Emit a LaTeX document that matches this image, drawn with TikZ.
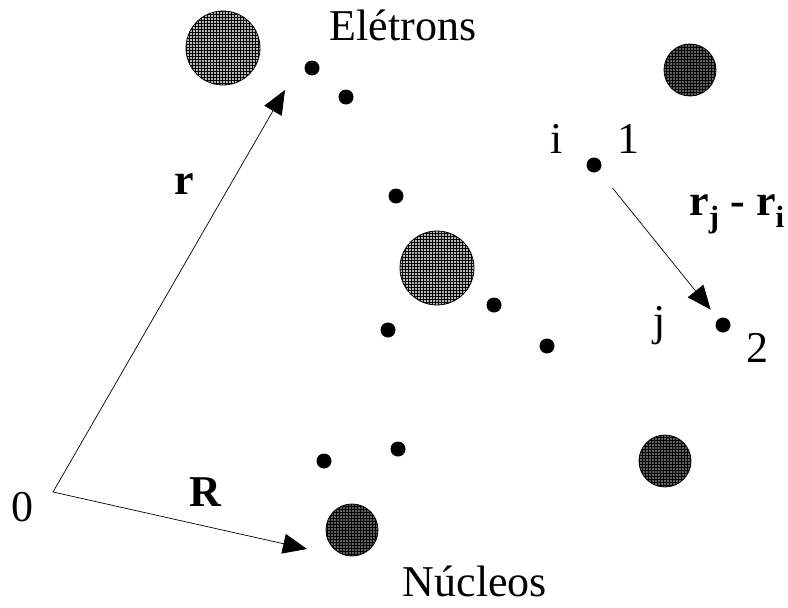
\documentclass[tikz,border=0pt]{standalone}
\usepackage{fontspec}
\setmainfont{Liberation Serif}
\usetikzlibrary{arrows.meta,patterns}
\begin{document}
\begin{tikzpicture}[x=1pt,y=-1pt,
  dot/.style={circle,fill=black,inner sep=0pt,minimum size=15pt},
  nucbig/.style={circle,draw=black,line width=0.8pt,preaction={fill=gray!55},pattern=grid,inner sep=0pt,minimum size=74pt},
  nucsmall/.style={circle,draw=black,line width=0.8pt,preaction={fill=gray!75!black},pattern=grid,inner sep=0pt,minimum size=52pt},
  vec/.style={line width=0.7pt,-{Triangle[length=24pt,width=20pt]}},
  lbl/.style={font=\fontsize{44}{50}\selectfont,inner sep=0pt,anchor=base},
  blbl/.style={font=\fontsize{44}{50}\selectfont\bfseries,inner sep=0pt,anchor=base}]
\useasboundingbox (0,0) rectangle (788,608);
% nuclei
\node[nucbig] (n1) at (223,48) {};
\node[nucbig] (n2) at (437,268) {};
\node[nucsmall] (n3) at (690,70) {};
\node[nucsmall] (n4) at (665,461) {};
\node[nucsmall] (n5) at (352,530) {};
% electrons
\node[dot] (e1) at (312,68) {};
\node[dot] (e2) at (346,97) {};
\node[dot] (e3) at (396,196) {};
\node[dot] (d1) at (594,165) {};
\node[dot] (e4) at (494,305) {};
\node[dot] (e5) at (388,330) {};
\node[dot] (e6) at (547,346) {};
\node[dot] (d2) at (723,325) {};
\node[dot] (e7) at (324,461) {};
\node[dot] (e8) at (398,449) {};
% vectors
\coordinate (O) at (53,492);
\coordinate (rt) at (285,90);
\coordinate (Rt) at (307,549);
\draw[vec] (O) -- (rt);
\draw[vec] (O) -- (Rt);
\draw[vec,shorten <=22pt,shorten >=12pt] (d1) -- (d2);
% labels
\node[lbl] (tE) at (403,40) {Elétrons};
\node[lbl] (tN) at (475,596) {Núcleos};
\node[lbl] (t0) at (22,521) {0};
\node[blbl] (tr) at (184,194) {r};
\node[blbl] (tR) at (205,506) {R};
\node[lbl] (ti) at (557,153) {i};
\node[lbl] (t1) at (628,153) {1};
\node[blbl] (tji) at (737,215) {r$_{\mathbf{j}}$ - r$_{\mathbf{i}}$};
\node[lbl] (tj) at (660,335) {j};
\node[lbl] (t2) at (757,362) {2};
\end{tikzpicture}
\end{document}
